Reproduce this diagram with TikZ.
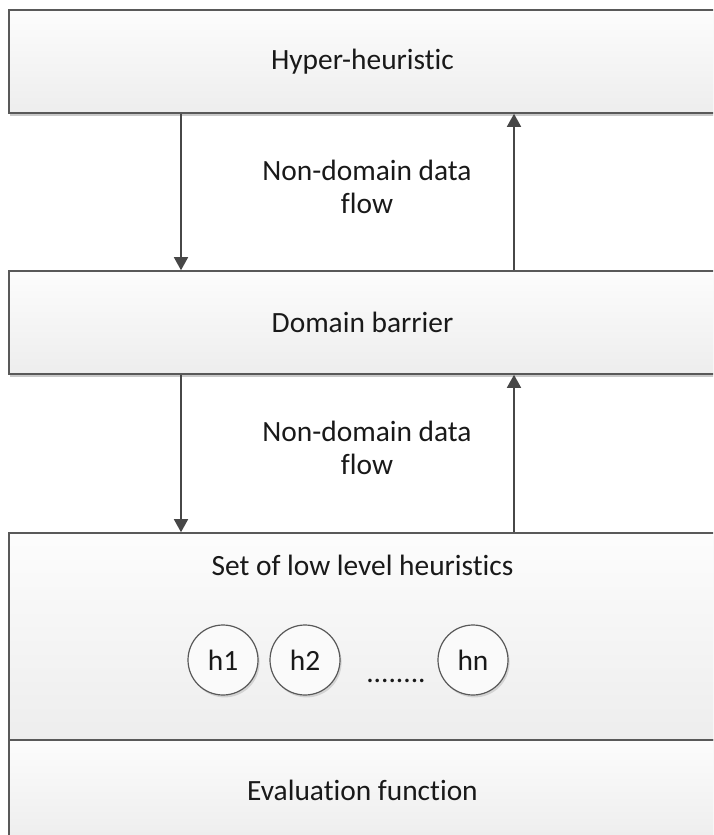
\documentclass[tikz,border=0pt]{standalone}
\usepackage{fontspec}
\setmainfont{Carlito}[Ligatures=NoCommon]
\usetikzlibrary{calc,shapes,arrows.meta,shadows}

\tikzset{
  layer/.style={draw=black!65, line width=0.8pt, top color=black!1, bottom color=black!7,
    drop shadow={shadow xshift=0.5pt, shadow yshift=-1.3pt, fill=black!30, opacity=0.7},
    minimum width=353.5pt, inner sep=0pt, lbl},
  heur/.style={circle, draw=black!65, line width=0.6pt, fill=black!2, minimum size=35pt,
    inner sep=0pt, drop shadow={shadow xshift=0.8pt, shadow yshift=-1.2pt, fill=black!25, opacity=0.6}, lbl},
  flow/.style={draw=black!72, line width=0.8pt, -{Triangle[width=7pt,length=6.5pt]}},
  lbl/.style={font=\fontsize{14.7}{16.5}\selectfont, align=center, text=black!90}
}

\begin{document}
\begin{tikzpicture}[x=0.5pt, y=-0.5pt]
        \useasboundingbox (0,0) rectangle (713,835);
        \clip (0,0) rectangle (713,835);
        % layers
        \node[layer, minimum height=51.5pt] (hyper) at (362.5,61.5) {Hyper-heuristic};
        \node[layer, minimum height=51.5pt] (barrier) at (362.5,322.5) {Domain barrier};
        \node[layer, minimum height=103.5pt] (llh) at (362.5,636.5) {};
        \node[layer, minimum height=50pt] (evalf) at (362.5,790) {Evaluation function};
        \node[lbl] (llhtitle) at (362.5,565) {Set of low level heuristics};
        % heuristics
        \node[heur] (h1) at (223,660) {h1};
        \node[heur] (h2) at (305,660) {h2};
        \node[heur] (hn) at (473,660) {hn};
        \node[lbl] (hdots) at (396,681) {........};
        % flows
        \coordinate (down) at (181,0);
        \coordinate (up) at (514,0);
        \draw[flow] (hyper.south -| down) -- (barrier.north -| down);
        \draw[flow] (barrier.north -| up) -- (hyper.south -| up);
        \draw[flow] (barrier.south -| down) -- (llh.north -| down);
        \draw[flow] (llh.north -| up) -- (barrier.south -| up);
        \node[lbl] (flowa) at (367,187) {Non-domain data\\flow};
        \node[lbl] (flowb) at (367,448) {Non-domain data\\flow};
    \end{tikzpicture}
\end{document}
